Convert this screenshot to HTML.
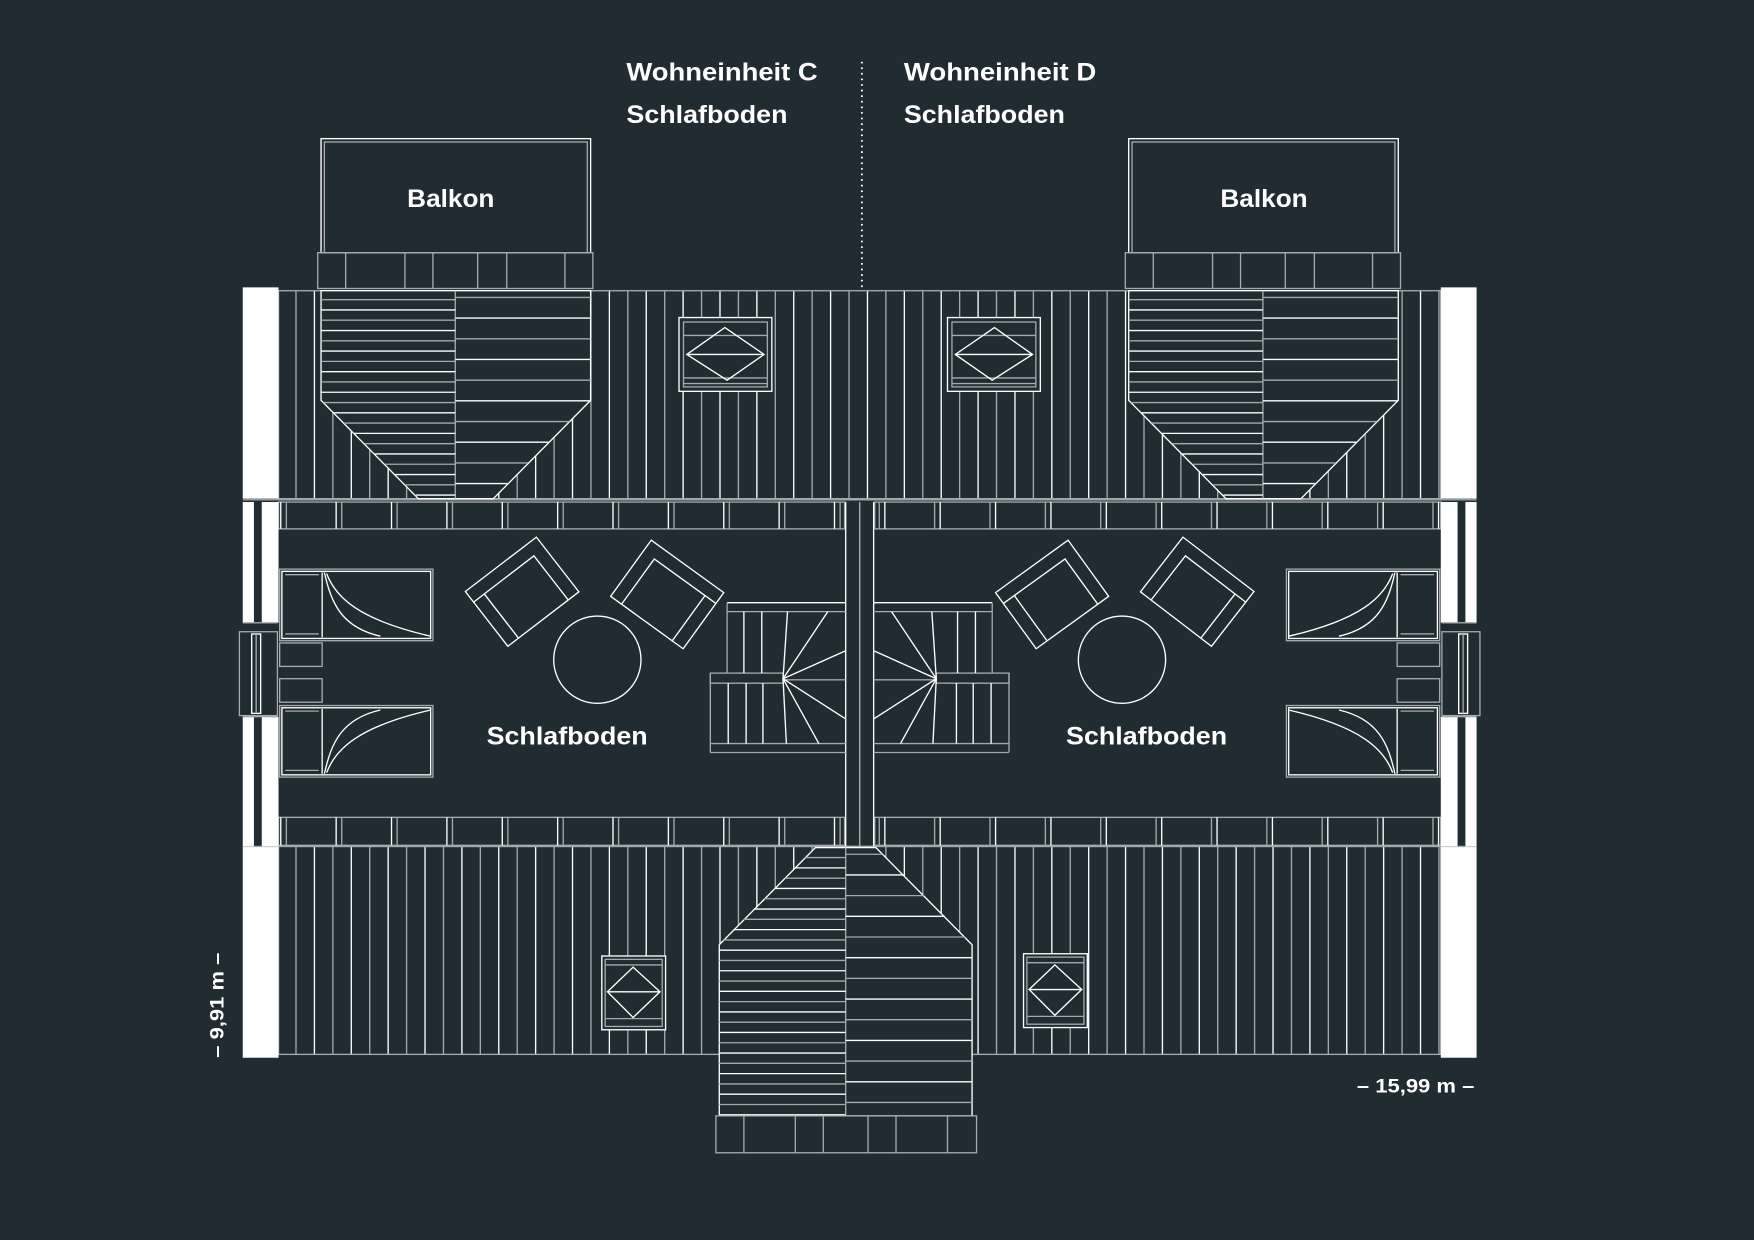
<!DOCTYPE html>
<html><head><meta charset="utf-8"><style>
html,body{margin:0;padding:0;background:#202b32;}
svg{display:block}
text{font-family:"Liberation Sans","DejaVu Sans",sans-serif;font-weight:bold;fill:#fff}
</style></head><body>
<svg id="s" width="1754" height="1240" viewBox="0 0 1568 1109" preserveAspectRatio="none" xmlns="http://www.w3.org/2000/svg">
<rect width="1568" height="1109" fill="#202b32"/>
<g id="base" fill="none" stroke-width="1.2"></g>
<g id="dorm" fill="none" stroke-width="1.2"></g>
<g id="dorm2" transform="translate(722,0)"></g>
<g id="half" fill="none" stroke-width="1.2"></g>
<g id="mir" transform="matrix(-1 0 0 1 1537 0)"></g>
<g id="bot" fill="none" stroke-width="1.2"></g>
<text x="560" y="72" font-size="22" textLength="171" lengthAdjust="spacingAndGlyphs">Wohneinheit C</text>
<text x="560" y="110" font-size="22" textLength="144" lengthAdjust="spacingAndGlyphs">Schlafboden</text>
<text x="808" y="72" font-size="22" textLength="172" lengthAdjust="spacingAndGlyphs">Wohneinheit D</text>
<text x="808" y="110" font-size="22" textLength="144" lengthAdjust="spacingAndGlyphs">Schlafboden</text>
<text x="364" y="185" font-size="22" textLength="78" lengthAdjust="spacingAndGlyphs">Balkon</text>
<text x="1091" y="185" font-size="22" textLength="78" lengthAdjust="spacingAndGlyphs">Balkon</text>
<text x="435" y="666" font-size="22" textLength="144" lengthAdjust="spacingAndGlyphs">Schlafboden</text>
<text x="953" y="666" font-size="22" textLength="144" lengthAdjust="spacingAndGlyphs">Schlafboden</text>
<text x="1213" y="977" font-size="17" textLength="105" lengthAdjust="spacingAndGlyphs">– 15,99 m –</text>
<text transform="translate(200,946) rotate(-90)" font-size="17" textLength="94" lengthAdjust="spacingAndGlyphs">– 9,91 m –</text>
</svg>
<script>
var NS="http://www.w3.org/2000/svg",W="#ffffff",G="#a3a9ad",BG="#202b32";
function el(p,t,a){var e=document.createElementNS(NS,t);for(var k in a)e.setAttribute(k,a[k]);document.getElementById(p).appendChild(e);return e;}
function L(p,x1,y1,x2,y2,c){el(p,"line",{x1:x1,y1:y1,x2:x2,y2:y2,stroke:c||W});}
function R(p,x,y,w,h,c,f){el(p,"rect",{x:x,y:y,width:w,height:h,stroke:c||W,fill:f||"none"});}
function P(p,pts,c,f){el(p,"polygon",{points:pts,stroke:c||W,fill:f||"none"});}
var i,x,y,k;
for(k=0,x=264.6;x<1288;x+=16.48,k++){L("base",x,260,x,446,k%2?W:G);L("base",x,757,x,943,k%2?W:G);}
R("base",249,260,1039,186,G);R("base",249,757,1039,186,G);
el("base","rect",{x:217,y:257,width:32,height:189,fill:W});
el("base","rect",{x:1288,y:257,width:32,height:189,fill:W});
el("base","rect",{x:217,y:757,width:32,height:189,fill:W});
el("base","rect",{x:1288,y:757,width:32,height:189,fill:W});
el("base","rect",{x:249,y:447,width:1039,height:309,fill:BG});
L("base",217,447,1320,447,G);L("base",217,757,1320,757,G);
// dormer + balcony (translated copy on right)
var d="dorm";
R(d,287,124,241,102);R(d,290,127,235,99,G);
R(d,284,226,246,32,G);
[309,362,387,427,453,505].forEach(function(x){L(d,x,226,x,258,G);});
P(d,"287,260 528,260 528,358 441,446 374,446 287,358",W,BG);
L(d,407,260,407,446,G);
for(k=0,y=268;y<446;y+=9.2,k++){var xl=y>358?287+(y-358):287;L(d,xl,y,407,y,k%2?W:G);}
for(k=0,y=266;y<446;y+=18.5,k++){var xr=y>358?528-(y-358):528;L(d,407,y,xr,y,k%2?W:G);}
document.getElementById("dorm2").innerHTML=document.getElementById("dorm").innerHTML;
document.getElementById("dorm2").setAttribute("fill","none");document.getElementById("dorm2").setAttribute("stroke-width","1.2");
// ---- left half (mirrored) ----
var h="half";
R(h,607,284,83,66,W,BG);R(h,611,288,75,58,G);
L(h,611,300,686,300,G);L(h,611,338,686,338,G);L(h,611,343,686,343,G);
P(h,"614,317 648,293 683,317 650,340",W);L(h,614,317,683,317);
R(h,249,449,506,24,G);R(h,249,731,506,25,G);
for(x=251;x<750;x+=49.5){L(h,x,449,x,473,W);L(h,x+5,449,x+5,473,G);L(h,x,731,x,756,W);L(h,x+5,731,x+5,756,G);}
el(h,"rect",{x:217,y:449,width:10,height:308,fill:W,stroke:"none"});
el(h,"rect",{x:234,y:449,width:15,height:308,fill:W,stroke:"none"});
el(h,"rect",{x:213,y:557,width:37,height:84,fill:BG,stroke:"none"});
R(h,214,565,34,75,G);R(h,225,567,8,71,W);L(h,229,567,229,638,G);L(h,217,557,248,557,G);L(h,217,641,248,641,G);
L(h,756,449,756,757,W);L(h,768.5,449,768.5,757,G);
[509,631].forEach(function(y,j){R(h,250,y,137,64,G);R(h,252,y+2,133,60,W);L(h,288,y+3,288,y+61,W);
 var d2=j==0?"M290 "+(y+3)+" C296 "+(y+30)+" 305 "+(y+52)+" 340 "+(y+60)+" M292 "+(y+4)+" C300 "+(y+25)+" 320 "+(y+45)+" 385 "+(y+60):"M290 "+(y+61)+" C296 "+(y+34)+" 305 "+(y+12)+" 340 "+(y+4)+" M292 "+(y+60)+" C300 "+(y+39)+" 320 "+(y+19)+" 385 "+(y+4);
 el(h,"path",{d:d2,stroke:W});
 L(h,255,y+5,285,y+5,G);L(h,255,y+58,285,y+58,G);});
R(h,250,575,38,21,G);R(h,250,607,38,21,G);
function chair(ox,oy,ux,uy,vx,vy,a,b){function pt(u,v){return (ox+ux*u+vx*v).toFixed(1)+","+(oy+uy*u+vy*v).toFixed(1);}
 P(h,[pt(0,0),pt(a,0),pt(a,b),pt(0,b)].join(" "));
 el(h,"polyline",{points:[pt(0,12),pt(a-12,12),pt(a-12,b)].join(" "),stroke:W});
 el(h,"polyline",{points:[pt(12,12),pt(12,b)].join(" "),stroke:W});}
chair(416,529,0.794,-0.608,0.613,0.790,80,62);
chair(647,530,-0.810,-0.586,-0.586,0.810,80,62);
el(h,"circle",{cx:534,cy:590,r:39,stroke:W});
L(h,650,539,756,539);L(h,650,547,756,547,G);L(h,650,539,650,602,G);
R(h,635,602,65,9,G);L(h,700,608,756,608,G);
L(h,635,665,756,665,G);L(h,635,673,756,673,G);L(h,635,602,635,673,G);
[665,681].forEach(function(x){L(h,x,547,x,602);});
[651,667,682].forEach(function(x){L(h,x,611,x,665);});
[[704,547],[740,547],[756,582],[756,643],[732,665],[703,665]].forEach(function(p){L(h,700,607,p[0],p[1]);});
document.getElementById("mir").innerHTML=document.getElementById("half").innerHTML;
document.getElementById("mir").setAttribute("fill","none");document.getElementById("mir").setAttribute("stroke-width","1.2");
var b="bot";
P(b,"729,758 783,758 869,845 869,998 643,998 643,845",W,BG);
L(b,756,758,756,998,G);
for(k=0,y=767;y<998;y+=9.2,k++){var xl2=y<845?729-(y-758):643;L(b,xl2,y,756,y,k%2?W:G);}
for(k=0,y=764;y<998;y+=18.5,k++){var xr2=y<845?783+(y-758):869;L(b,756,y,xr2,y,k%2?W:G);}
R(b,640,998,233,33,G);
[665,711,736,776,801,847].forEach(function(x){L(b,x,998,x,1031,G);});
function sky(x,y){R(b,x,y,57,66,W,BG);R(b,x+3,y+3,51,60,G);L(b,x+3,y+8,x+54,y+8,G);L(b,x+3,y+56,x+54,y+56,G);
 P(b,(x+5)+","+(y+32)+" "+(x+28)+","+(y+10)+" "+(x+52)+","+(y+32)+" "+(x+28)+","+(y+55),W);L(b,x+5,y+32,x+52,y+32);}
sky(538,855);sky(915,853);
for(y=56;y<260;y+=5)el(b,"circle",{cx:770.5,cy:y,r:0.9,fill:W,stroke:"none"});
</script>
</body></html>
